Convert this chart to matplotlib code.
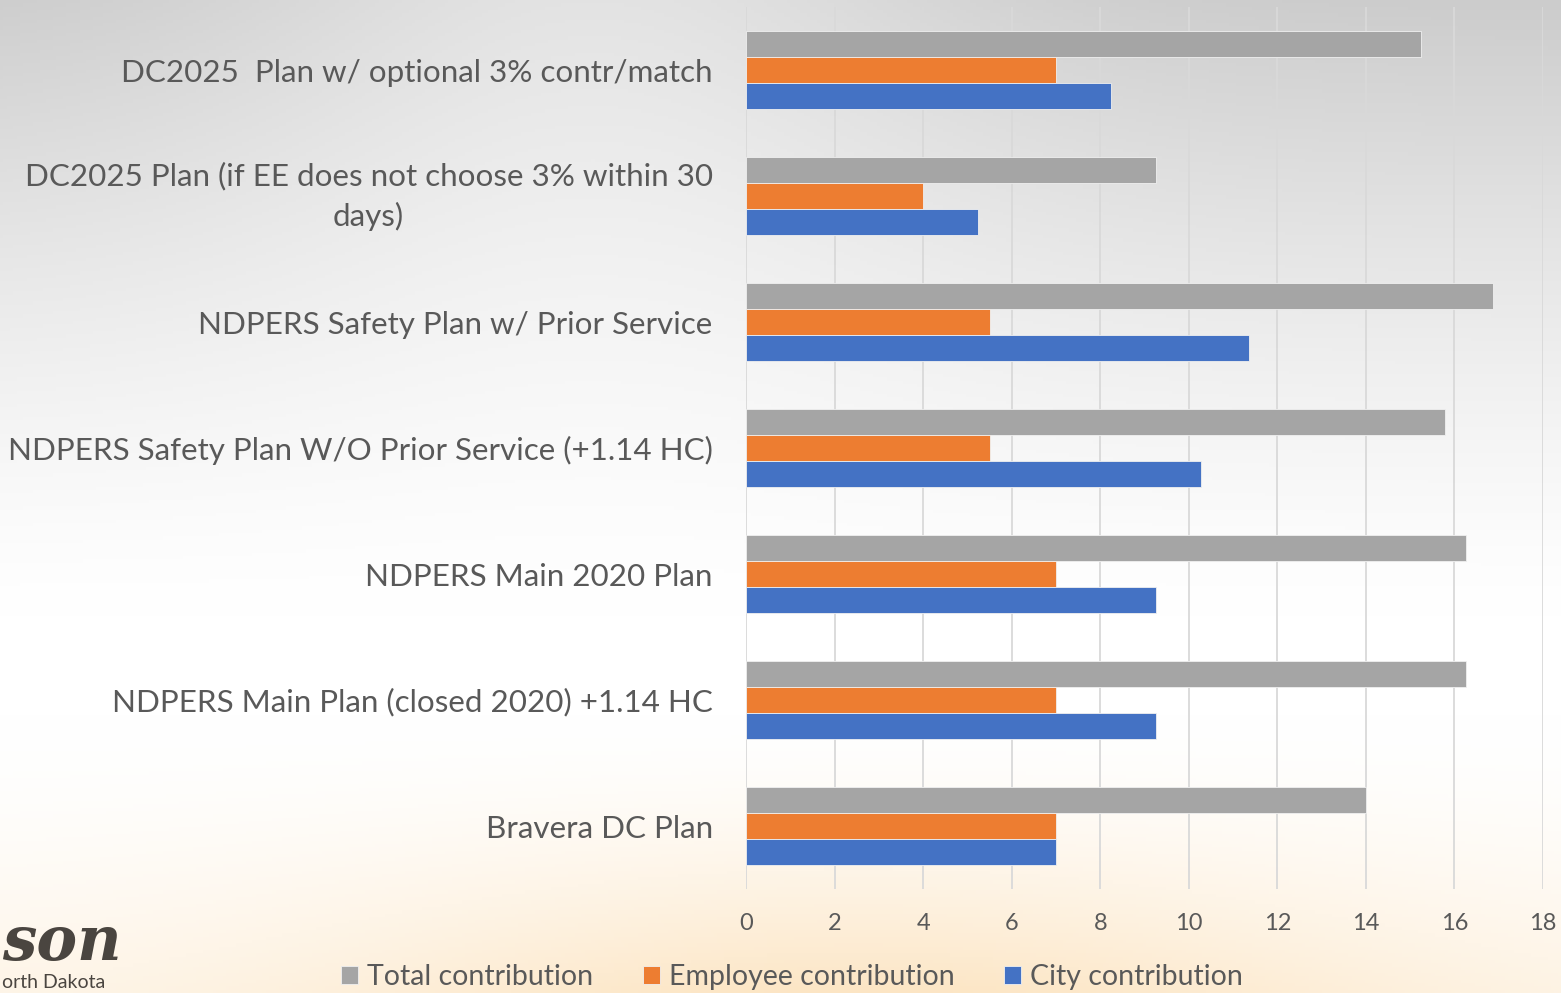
import numpy as np
import matplotlib
matplotlib.use("Agg")
import matplotlib.pyplot as plt
import matplotlib.transforms as mtransforms

categories = [
    "DC2025  Plan w/ optional 3% contr/match",
    "DC2025 Plan (if EE does not choose 3% within 30\ndays)",
    "NDPERS Safety Plan w/ Prior Service",
    "NDPERS Safety Plan W/O Prior Service (+1.14 HC)",
    "NDPERS Main 2020 Plan",
    "NDPERS Main Plan (closed 2020) +1.14 HC",
    "Bravera DC Plan",
]
total_contribution = [15.25, 9.25, 16.87, 15.78, 16.26, 16.26, 14.0]
employee_contribution = [7.0, 4.0, 5.5, 5.5, 7.0, 7.0, 7.0]
city_contribution = [8.25, 5.25, 11.37, 10.28, 9.26, 9.26, 7.0]
series_names = ["Total contribution", "Employee contribution", "City contribution"]
series_colors = ["#A5A5A5", "#ED7D31", "#4472C4"]
x_ticks = [0, 2, 4, 6, 8, 10, 12, 14, 16, 18]

W, H = 1561, 993
fig = plt.figure(figsize=(W / 100, H / 100), dpi=100)

# background gradient
bg = fig.add_axes([0, 0, 1, 1], zorder=-10)
yy, xx = np.mgrid[0:1:300j, 0:1:470j]
gray_amt = np.clip(1 - yy / 0.62, 0, 1) ** 1.3
edge = 0.20 - 0.09 * np.exp(-((xx - 0.38) / 0.25) ** 2)
g = 1 - edge * gray_amt
img = np.dstack([g, g, g])
peach = np.array([0.99, 0.90, 0.77])
w = np.clip((yy - 0.72) / 0.28, 0, 1) ** 1.6 * (0.35 + 0.65 * np.exp(-((xx - 0.55) / 0.35) ** 2))
img = img * (1 - w[..., None]) + peach * w[..., None]
bg.imshow(img, extent=[0, 1, 0, 1], aspect="auto", origin="upper")
bg.axis("off")

ax = fig.add_axes([746 / W, 1 - 889 / H, (1543 - 746) / W, (889 - 7) / H])
ax.set_facecolor("none")

n = len(categories)
y = np.arange(n)
bh = 0.206
data = [total_contribution, employee_contribution, city_contribution]
offsets = [-bh, 0, bh]
for vals, off, col, name in zip(data, offsets, series_colors, series_names):
    ax.barh(y + off, vals, height=bh, color=col, label=name,
            edgecolor="#f0f0f0", linewidth=0.6, zorder=3)

ax.set_ylim(n - 0.5, -0.5)
ax.set_xlim(0, 18)
ax.set_xticks(x_ticks)
ax.set_yticks(y)
ax.set_yticklabels(categories, fontsize=22.6, color="#595959", family="Lato",
                   ha="right", multialignment="center", linespacing=1.5)
ax.tick_params(axis="y", length=0, pad=24)
ax.tick_params(axis="x", length=0, pad=17, labelsize=17, labelcolor="#595959")
for lbl in ax.get_xticklabels():
    lbl.set_family("Lato")
ax.grid(axis="x", color="#d9d9d9", linewidth=1.3, zorder=0)
for s in ax.spines.values():
    s.set_visible(False)

# nudge the two-line label up slightly, like the reference
lbl2 = ax.get_yticklabels()[1]
lbl2.set_transform(lbl2.get_transform() +
                   mtransforms.ScaledTranslation(0, 6 / 72, fig.dpi_scale_trans))

leg = fig.legend(loc="center", bbox_to_anchor=(792 / W, 1 - 977 / H), ncol=3,
                 frameon=False, prop={"family": "Lato", "size": 20.5},
                 handlelength=0.6, handleheight=0.6, handletextpad=0.3,
                 columnspacing=1.75, borderaxespad=0)
for t in leg.get_texts():
    t.set_color("#595959")

# partial logo at bottom-left
fig.text(2 / W, 1 - 943 / H, "son", fontsize=44, fontweight="bold", style="italic",
         color="#4a4540", family="DejaVu Serif", va="center", ha="left")
fig.text(2 / W, 1 - 982 / H, "orth Dakota", fontsize=14, color="#4a4540",
         family="Lato", va="center", ha="left")

fig.savefig("out.png", dpi=100)
